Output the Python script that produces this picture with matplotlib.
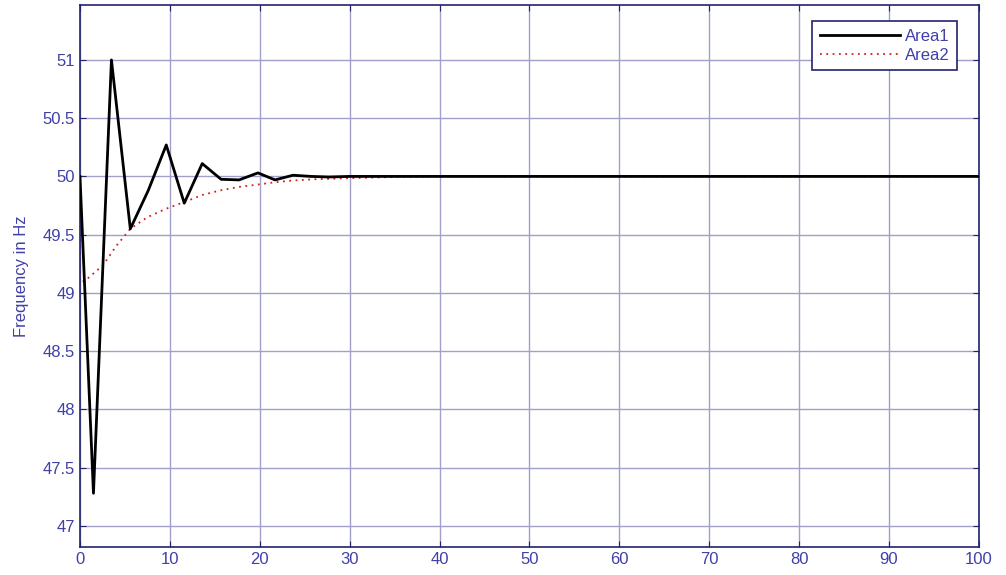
import numpy as np
import matplotlib
matplotlib.use("Agg")
import matplotlib.pyplot as plt

plt.rc('font', family=['Liberation Sans', 'DejaVu Sans'], size=12)

# Area1: oscillating response
t_area1 = [0, 1.5, 3.5, 5.6, 7.6, 9.6, 11.6, 13.6, 15.7, 17.7, 19.8, 21.7, 23.7,
           25.7, 27.7, 30, 40, 60, 80, 100]
f_area1 = [50.0, 47.28, 51.0, 49.55, 49.88, 50.27, 49.77, 50.11, 49.975, 49.97,
           50.03, 49.97, 50.01, 50.0, 49.995, 50.0, 50.0, 50.0, 50.0, 50.0]

# Area2: smooth rise
t_area2 = [0, 0.0, 0.5, 2.6, 4.0, 5.6, 7.5, 9.5, 11.6, 13.6, 15.6, 17.7, 19.8,
           21.7, 23.7, 26, 30, 35, 40, 100]
f_area2 = [50.0, 49.1, 49.1, 49.24, 49.4, 49.55, 49.65, 49.72, 49.78, 49.84,
           49.88, 49.91, 49.93, 49.95, 49.965, 49.975, 49.985, 49.995, 50.0, 50.0]

navy = '#22226e'
blue = '#4040a8'
gridc = '#a0a0c8'

fig = plt.figure(figsize=(10.06, 5.75), dpi=100)
ax = fig.add_axes([0.0795, 0.049, 0.8935, 0.942])

ax.plot(t_area1, f_area1, color='black', linewidth=2.0, label='Area1', zorder=3)
ax.plot(t_area2, f_area2, color='#d02020', linestyle=(0, (1, 2.5)), linewidth=1.3,
        label='Area2', zorder=2)

ax.set_xlim(0, 100)
ax.set_ylim(46.82, 51.47)
ax.set_xticks(np.arange(0, 101, 10))
ax.set_yticks(np.arange(47, 51.01, 0.5))
ax.set_yticklabels(['47', '47.5', '48', '48.5', '49', '49.5', '50', '50.5', '51'])
ax.grid(True, color=gridc, linewidth=1.0, linestyle='-')
ax.set_axisbelow(True)
ax.tick_params(direction='in', colors=navy, labelcolor=blue, length=4,
               top=True, right=True, labelsize=12)
for s in ax.spines.values():
    s.set_color(navy)
    s.set_linewidth(1.2)

ax.set_ylabel('Frequency in Hz', color=blue, fontsize=12, labelpad=10)

leg = ax.legend(loc='upper right', bbox_to_anchor=(0.9755, 0.9705), handlelength=4.8,
                fancybox=False, framealpha=1, edgecolor=navy, borderpad=0.45,
                labelspacing=0.25, handletextpad=0.3, borderaxespad=0, fontsize=12)
leg.get_frame().set_linewidth(1.2)
for txt in leg.get_texts():
    txt.set_color(blue)

fig.savefig('out.png', dpi=100, facecolor='white')
